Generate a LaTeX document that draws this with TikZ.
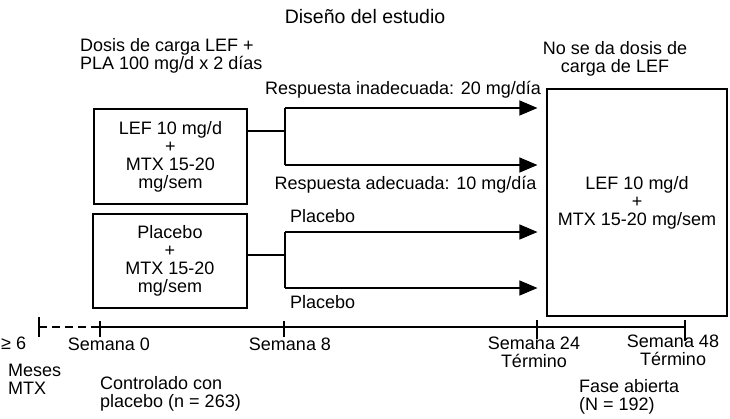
\documentclass[tikz,border=0pt]{standalone}
\usepackage{fontspec}
\setmainfont{Liberation Sans}
\usetikzlibrary{arrows.meta}
\begin{document}
\begin{tikzpicture}[x=1pt,y=-1pt,
  every node/.style={inner sep=0pt, font=\fontsize{18}{18}\selectfont},
  box/.style={draw, line width=1.1pt, align=center},
  ln/.style={line width=1.1pt},
  arr/.style={line width=1.1pt, -{Triangle[length=18pt,width=15pt]}, shorten >=9pt},
  lbl/.style={align=center},
  lbll/.style={align=left, anchor=west}]
\useasboundingbox (0,0) rectangle (730,418);
% title
\node[font=\fontsize{19.5}{20}\selectfont] (title) at (365,17) {Diseño del estudio};
\node[lbll] (dosis) at (80,56) {Dosis de carga LEF +\\PLA 100 mg/d x 2 días};
% boxes
\node[box, minimum width=153pt, minimum height=95pt] (b1) at (170.5,156.5) {LEF 10 mg/d\\+\\MTX 15-20\\mg/sem};
\node[box, minimum width=154pt, minimum height=94pt] (b2) at (170,261) {Placebo\\+\\MTX 15-20\\mg/sem};
\node[box, minimum width=180pt, minimum height=227pt] (big) at (637,202.5) {LEF 10 mg/d\\+\\MTX 15-20 mg/sem};
\node[lbl] (nose) at (615,59) {No se da dosis de\\carga de LEF};
% junctions
\coordinate (j1) at (285,131);
\coordinate (j1a) at (285,108);
\coordinate (j1b) at (285,165);
\coordinate (j2) at (285,255);
\coordinate (j2a) at (285,232);
\coordinate (j2b) at (285,288);
\draw[ln] (b1.east |- j1) -- (j1);
\draw[ln] (j1a) -- (j1b);
\draw[ln] (b2.east |- j2) -- (j2);
\draw[ln] (j2a) -- (j2b);
\draw[arr] (j1a) -- (big.west |- j1a);
\draw[arr] (j1b) -- (big.west |- j1b);
\draw[arr] (j2a) -- (big.west |- j2a);
\draw[arr] (j2b) -- (big.west |- j2b);
\node (r1) at (403,90) {Respuesta inadecuada: 20 mg/día};
\node (r2) at (405.5,185) {Respuesta adecuada: 10 mg/día};
\node[anchor=west] (p1) at (290,216) {Placebo};
\node[anchor=west] (p2) at (290,302) {Placebo};
% timeline
\coordinate (t0) at (39,327);
\coordinate (t1) at (100,327);
\coordinate (t2) at (284,327);
\coordinate (t3) at (537,327);
\coordinate (t4) at (685,327);
\draw[ln, dash pattern=on 8pt off 5pt] (t0) -- (t1);
\draw[ln] (t1) -- (t4);
\draw[ln] ([yshift=-10pt]t0) -- ([yshift=10pt]t0);
\draw[ln] ([yshift=-10pt]t1) -- ([yshift=6pt]t1);
\draw[ln] ([yshift=-10pt]t2) -- ([yshift=6pt]t2);
\draw[ln] ([yshift=-12pt]t3) -- ([yshift=7pt]t3);
\draw[ln] ([yshift=-14pt]t4) -- ([yshift=7pt]t4);
% timeline labels
\node[anchor=west] (ge) at (1,343) {≥ 6};
\node[lbll] (meses) at (8,379) {Meses\\MTX};
\node (s0) at (109,344) {Semana 0};
\node (s8) at (290,344) {Semana 8};
\node[lbll] (ctrl) at (100,394) {Controlado con\\placebo (n = 263)};
\node[lbl] (s24) at (534,352) {Semana 24\\Término};
\node[lbl] (s48) at (673,350) {Semana 48\\Término};
\node[lbll] (fase) at (579,397) {Fase abierta\\(N = 192)};
\end{tikzpicture}
\end{document}
